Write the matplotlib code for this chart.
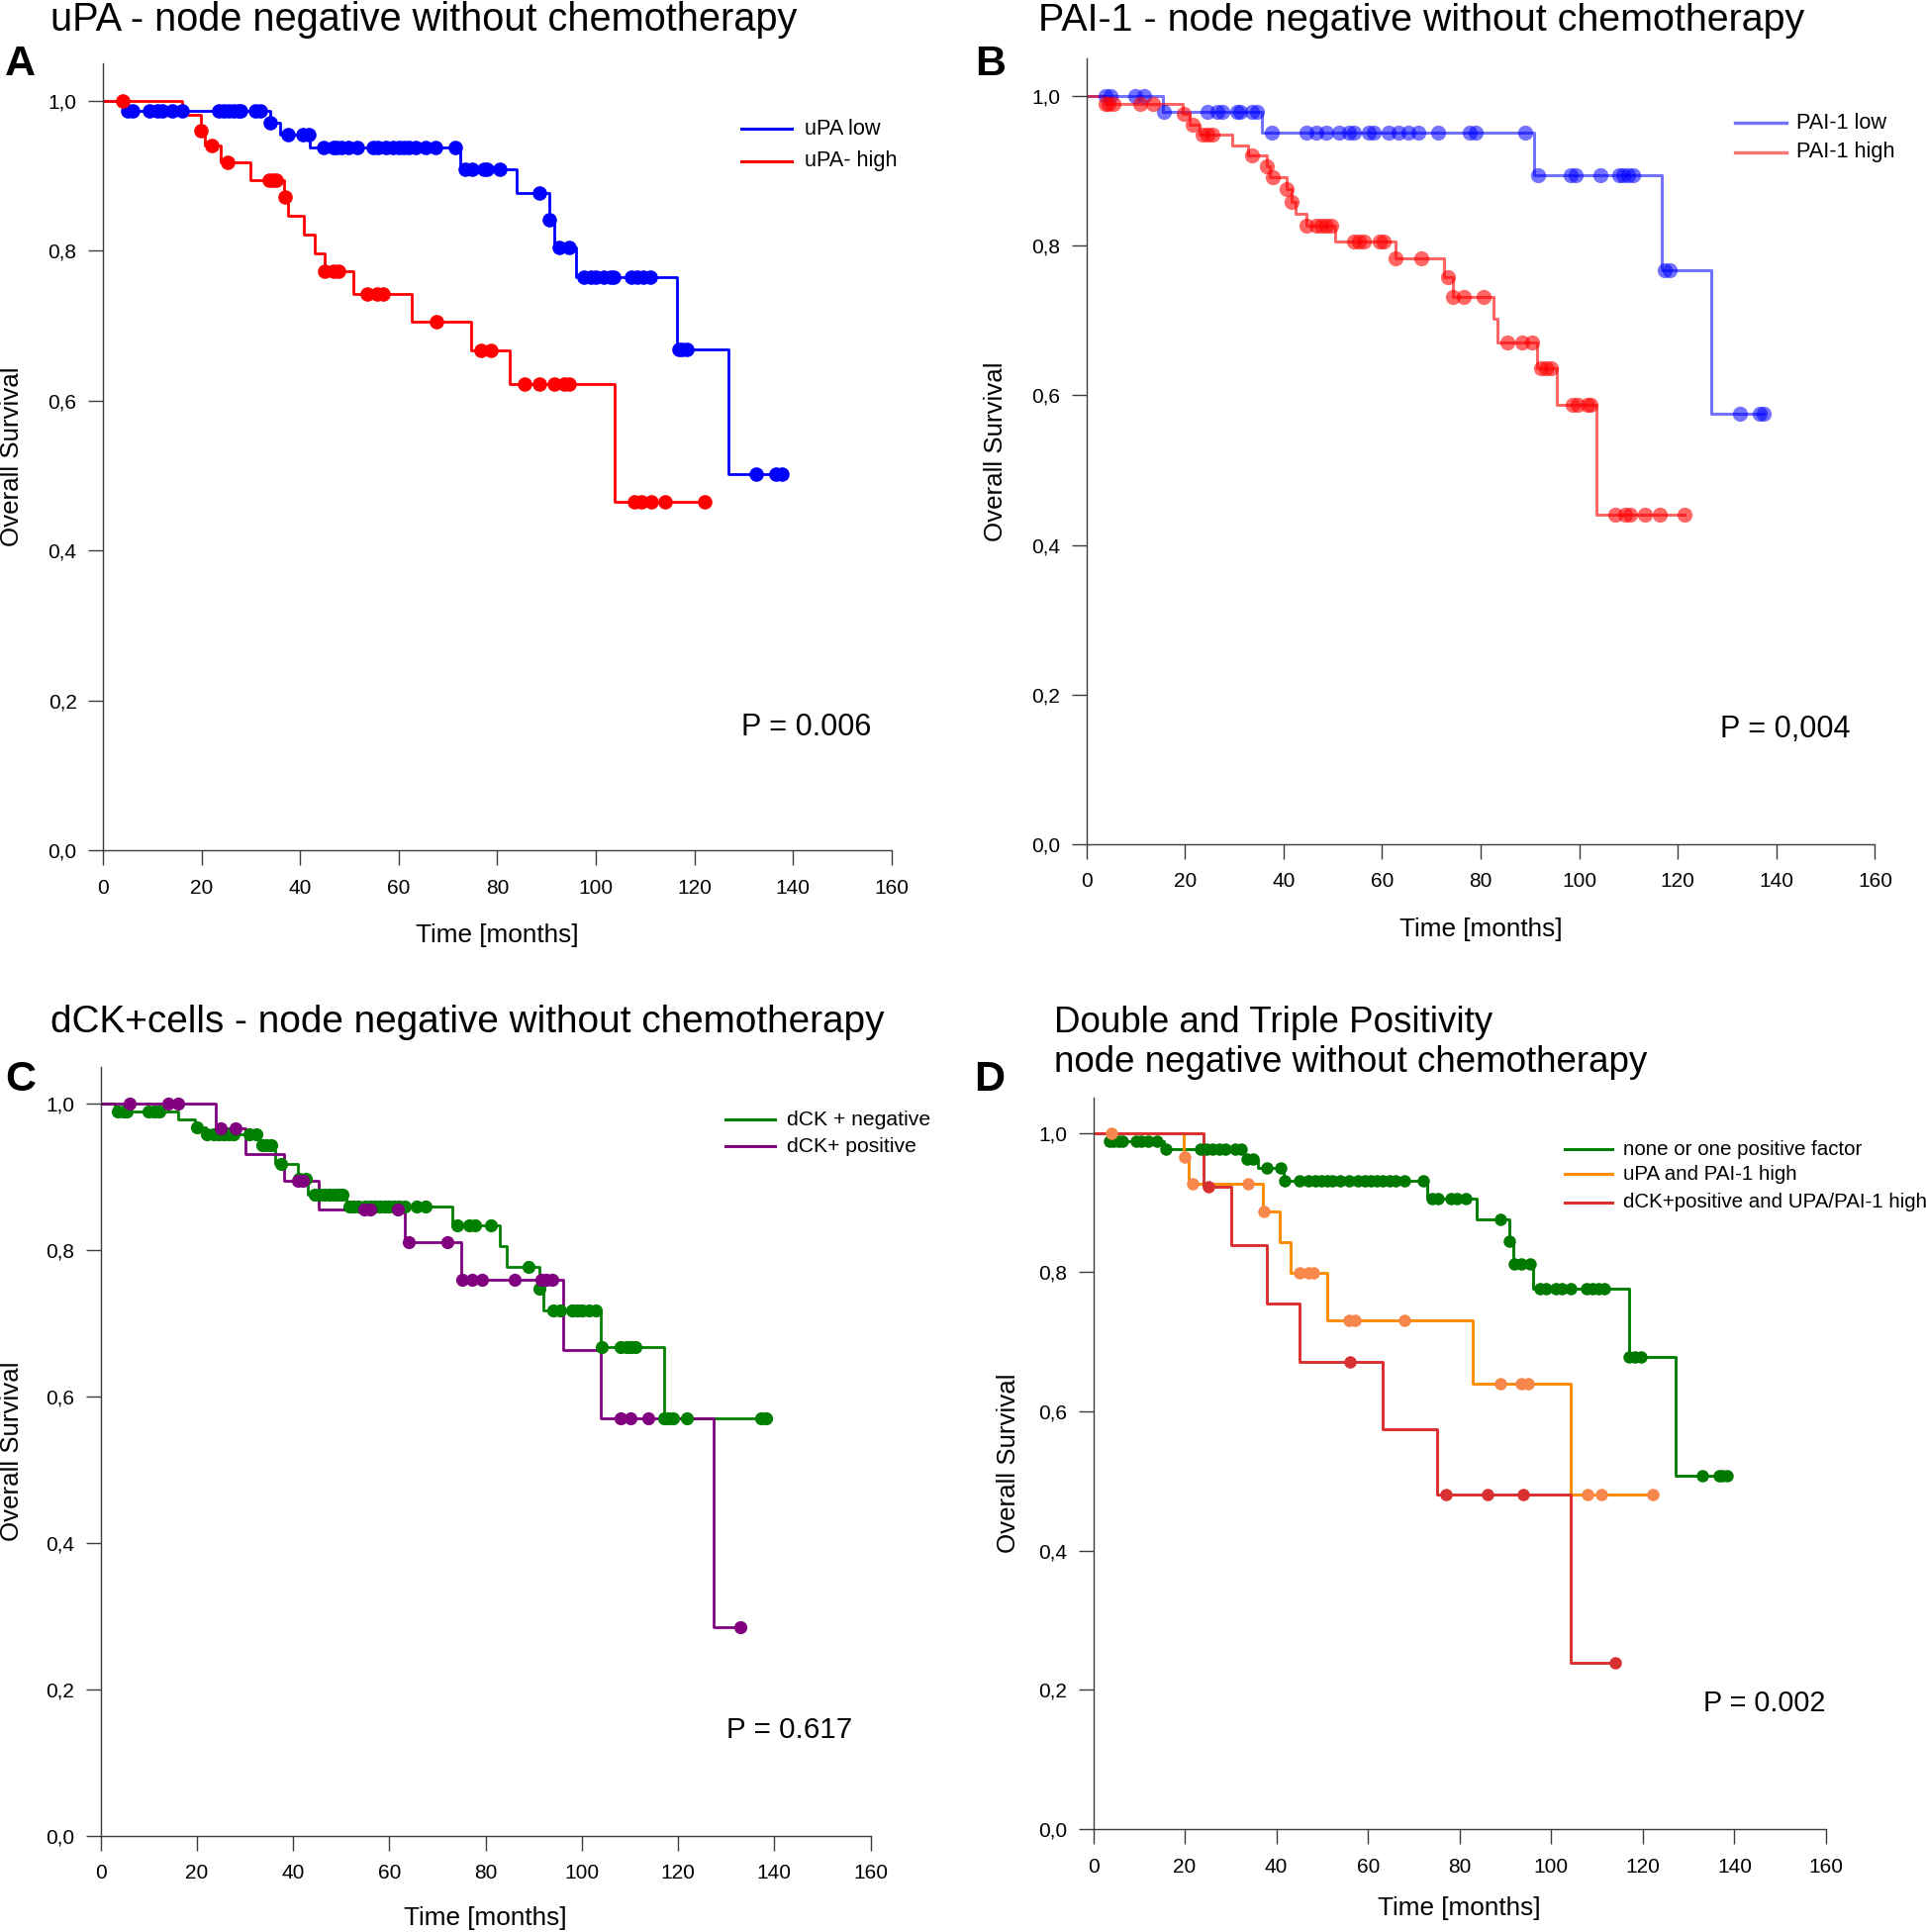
import numpy as np
import matplotlib
matplotlib.use('Agg')
import matplotlib.pyplot as plt
from matplotlib.ticker import FuncFormatter

plt.rcParams['font.family'] = ['Liberation Sans', 'DejaVu Sans']

# ---------------- data ----------------
# panel A - uPA
upa_low_t = [4.5, 34, 36, 42, 72.5, 84, 90.5, 91.5, 96, 116.5, 126.8]
upa_low_s = [0.987, 0.971, 0.955, 0.938, 0.909, 0.877, 0.842, 0.804, 0.765, 0.668, 0.502]
upa_low_cens = [5, 6, 9.5, 11, 12, 14, 16, 23.5, 24.5, 25.5, 26.5, 27.5, 28, 31, 32, 34,
                37.5, 40.5, 41.8, 44.7, 46.7, 47.4, 48.4, 49.7, 51.7, 54.8, 55.8, 57.4,
                58.8, 60.1, 61.1, 62.1, 63.5, 65.5, 67.5, 71.5, 73.5, 74.8, 77.2, 78,
                80.5, 88.6, 90.5, 92.6, 94.6, 97.6, 98.9, 100, 101.6, 102.9, 103.6,
                107.3, 108.5, 109.6, 111, 116.8, 117.5, 118.5, 132.4, 136.5, 137.7]
upa_high_t = [16, 19.8, 20.7, 24, 29.9, 36.8, 37.6, 40.8, 43, 44.9, 50.9, 62.6, 74.7, 82.5, 103.7]
upa_high_s = [0.981, 0.961, 0.940, 0.918, 0.895, 0.872, 0.847, 0.822, 0.797, 0.773,
              0.742, 0.705, 0.667, 0.622, 0.465]
upa_high_cens = [4, 19.9, 22.1, 25.3, 33.8, 34.5, 35.2, 36.9, 45, 46.8, 47.7, 53.7, 55.7,
                 56.8, 67.6, 76.7, 78.7, 85.5, 88.5, 91.5, 93.5, 94.6, 107.8, 109.3,
                 111.2, 114, 122.1]

# panel B - PAI-1
pai_low_t = [15.6, 35.6, 90.8, 116.8, 126.8]
pai_low_s = [0.979, 0.951, 0.894, 0.767, 0.575]
pai_low_cens = [3.8, 4.8, 9.8, 11.8, 15.7, 24.5, 26.5, 27.5, 30.6, 31.2, 33.6, 34.6, 37.6,
                44.6, 46.6, 48.6, 51.3, 53.3, 54.3, 57.3, 58.3, 61.4, 63.4, 65.4, 67.4,
                71.4, 77.7, 78.9, 89, 91.7, 98.3, 99.2, 104.3, 108, 109, 110, 111,
                117.3, 118.3, 132.7, 136.7, 137.5]
pai_high_t = [3.8, 19.6, 21, 23, 29.5, 32.7, 36.6, 37.2, 40.6, 41.6, 42.4, 44.6, 50.5,
              62.7, 72.6, 74.3, 82.5, 83.3, 91.4, 95.4, 103.4]
pai_high_s = [0.989, 0.976, 0.962, 0.949, 0.934, 0.920, 0.906, 0.891, 0.876, 0.859, 0.843,
              0.827, 0.806, 0.783, 0.758, 0.732, 0.702, 0.671, 0.636, 0.587, 0.440]
pai_high_cens = [3.9, 4.5, 5.5, 10.8, 13.5, 19.7, 21.5, 23.5, 24.5, 25.5, 33.6, 36.7,
                 37.9, 40.7, 41.7, 44.7, 46.6, 47.6, 48.6, 49.6, 54.3, 55.3, 56.3, 59.4,
                 60.4, 62.8, 67.9, 73.3, 74.4, 76.6, 80.5, 85.5, 88.4, 90.5, 92.3, 93.3,
                 94.3, 98.6, 99.6, 101.6, 102.2, 107.3, 109.3, 110.3, 113.3, 116.3, 121.3]

# panel C - dCK+ cells
dck_neg_t = [3, 16, 19.5, 21.8, 33, 36.2, 41, 43, 51, 73.1, 83, 84.3, 91.1, 92, 104, 117]
dck_neg_s = [0.990, 0.979, 0.968, 0.958, 0.943, 0.918, 0.897, 0.876, 0.859, 0.834, 0.806,
             0.777, 0.747, 0.717, 0.667, 0.570]
dck_neg_cens = [3.5, 4.7, 5.4, 9.9, 11.2, 12.2, 20.1, 22.1, 23.5, 24.5, 25.5, 26.5, 27.6,
                31, 32.3, 33.6, 34.5, 35.5, 37.5, 41.2, 42.6, 44.5, 45.5, 46.5, 47.5,
                48.5, 49.5, 50.3, 51.6, 52.5, 53.5, 55, 56, 57, 58, 59, 60, 61, 62, 63.1,
                65.7, 67.6, 74, 76.6, 77.9, 81.1, 89, 91.2, 94, 95.5, 98, 99, 100,
                101.5, 103, 104.1, 108, 109.3, 110.2, 111.2, 117.1, 118, 119, 121.9,
                137.3, 138.2]
dck_pos_t = [24, 30, 38.1, 45.2, 63.1, 75, 96.1, 103.9, 127.3]
dck_pos_s = [0.966, 0.931, 0.895, 0.855, 0.811, 0.760, 0.664, 0.570, 0.285]
dck_pos_cens = [6, 14, 16, 25, 28, 41, 42, 54.8, 56, 61.8, 64, 72.1, 75.1, 77.2, 79.2, 86,
                91.6, 92.6, 93.9, 108, 110, 113.8, 133]

# panel D - double and triple positivity
none_one_t = [3.5, 15.5, 32.9, 36, 41.6, 72.9, 83.8, 90.8, 91.8, 96, 116.9, 127.2]
none_one_s = [0.988, 0.976, 0.962, 0.949, 0.931, 0.906, 0.876, 0.845, 0.812, 0.776, 0.678, 0.508]
none_one_cens = [3.6, 4.5, 5.5, 6.3, 9.3, 10.5, 12, 14, 15.9, 23.5, 24.8, 26.1, 27.5, 28.8,
                 30.9, 32.2, 33.6, 34.9, 37.9, 41, 41.9, 45, 47, 48.4, 49.7, 51.1, 52.2,
                 53.8, 55.8, 57.8, 59.2, 60.5, 61.9, 63.2, 64.6, 65.9, 67.9, 72, 74,
                 75.3, 78, 79.4, 81.4, 88.8, 90.9, 92, 93.5, 95.3, 97.6, 98.9, 101,
                 102.3, 104.3, 107.7, 109, 110.4, 111.7, 117, 118.2, 119.6, 132.9, 136.7,
                 137.4, 138.3]
upa_pai_t = [19.8, 20.8, 37.1, 40.7, 43, 51.1, 82.9, 104.2]
upa_pai_s = [0.965, 0.927, 0.887, 0.843, 0.799, 0.731, 0.640, 0.480]
upa_pai_cens = [3.9, 19.9, 21.8, 33.8, 37.2, 45, 47, 48.1, 55.8, 57.2, 67.9, 89, 93.5,
                94.9, 108, 111, 122.1]
triple_t = [24.1, 30.1, 38, 45, 63.2, 75.1, 104.2]
triple_s = [0.922, 0.839, 0.755, 0.671, 0.575, 0.480, 0.239]
triple_cens = [25.1, 56.1, 77.1, 86, 93.9, 114]

x_ticks = [0, 20, 40, 60, 80, 100, 120, 140, 160]
y_ticks = [0.0, 0.2, 0.4, 0.6, 0.8, 1.0]


def km_xy(event_t, event_s, cens_t):
    levels = np.r_[1.0, event_s]
    end = max(max(cens_t), event_t[-1])
    xs = np.r_[0, event_t, end]
    ys = np.r_[levels, levels[-1]]
    cy = levels[np.searchsorted(event_t, cens_t, side='right')]
    return xs, ys, cy


def setup_axes(ax):
    ax.set_xlim(0, 160)
    ax.set_ylim(0, 1.05)
    ax.set_xticks(x_ticks)
    ax.set_yticks(y_ticks)
    ax.yaxis.set_major_formatter(FuncFormatter(lambda v, p: f'{v:.1f}'.replace('.', ',')))
    for s in ['top', 'right']:
        ax.spines[s].set_visible(False)
    for s in ['left', 'bottom']:
        ax.spines[s].set_color('#3c3c3c')
        ax.spines[s].set_linewidth(1.0)
    ax.tick_params(direction='out', length=10.5, width=1, color='#3c3c3c', labelsize=15)
    ax.tick_params(axis='x', pad=10)
    ax.tick_params(axis='y', pad=8.5)
    ax.text(0.5, -0.108, 'Time [months]', transform=ax.transAxes, ha='center',
            va='center', fontsize=18.8)
    ax.text(-0.115, 0.5, 'Overall Survival', transform=ax.transAxes, ha='center',
            va='center', rotation=90, fontsize=18.6)


def draw_curves(ax, curves, lw, ms):
    pts = []
    for ev_t, ev_s, cens, lc, mc, alpha in curves:
        xs, ys, cy = km_xy(ev_t, ev_s, cens)
        ax.step(xs, ys, where='post', color=lc, lw=lw, alpha=alpha, zorder=2)
        pts.append((cens, cy, mc, alpha))
    for cens, cy, mc, alpha in pts:
        ax.plot(cens, cy, 'o', color=mc, ms=ms, mew=0, alpha=alpha, zorder=3, clip_on=False)


def draw_legend(ax, labels, colors, alpha, x0, x1, xt, ys, fs, lw):
    for lab, c, y in zip(labels, colors, ys):
        ax.plot([x0, x1], [y, y], color=c, lw=lw, alpha=alpha, transform=ax.transAxes,
                clip_on=False)
        ax.text(xt, y, lab, transform=ax.transAxes, ha='left', va='center', fontsize=fs)


fig = plt.figure(figsize=(19.46, 19.52), dpi=100)

axA = fig.add_axes([0.0534, 0.5599, 0.4096, 0.4072])
axB = fig.add_axes([0.5641, 0.5630, 0.4094, 0.4067])
axC = fig.add_axes([0.0523, 0.0499, 0.3997, 0.3977])
axD = fig.add_axes([0.5676, 0.0532, 0.3805, 0.3785])

# A
setup_axes(axA)
draw_curves(axA, [(upa_low_t, upa_low_s, upa_low_cens, '#0000ff', '#0000ff', 1.0),
                  (upa_high_t, upa_high_s, upa_high_cens, '#ff0000', '#ff0000', 1.0)],
            lw=2.0, ms=10.5)
draw_legend(axA, ['uPA low', 'uPA- high'], ['#0000ff', '#ff0000'], 1.0,
            0.809, 0.873, 0.890, [0.917, 0.876], 15.7, 2.2)
axA.text(129.5, 0.164, 'P = 0.006', ha='left', va='center', fontsize=22)

# B
setup_axes(axB)
draw_curves(axB, [(pai_low_t, pai_low_s, pai_low_cens, '#0000ff', '#0000ff', 0.55),
                  (pai_high_t, pai_high_s, pai_high_cens, '#ff0000', '#ff0000', 0.6)],
            lw=2.2, ms=11)
draw_legend(axB, ['PAI-1 low', 'PAI-1 high'], ['#0000ff', '#ff0000'], 0.55,
            0.822, 0.888, 0.900, [0.918, 0.881], 15.7, 2.4)
axB.text(128.5, 0.153, 'P = 0,004', ha='left', va='center', fontsize=22)

# C
setup_axes(axC)
draw_curves(axC, [(dck_neg_t, dck_neg_s, dck_neg_cens, '#008000', '#008000', 1.0),
                  (dck_pos_t, dck_pos_s, dck_pos_cens, '#800080', '#800080', 1.0)],
            lw=2.0, ms=9.5)
draw_legend(axC, ['dCK + negative', 'dCK+ positive'], ['#008000', '#800080'], 1.0,
            0.812, 0.876, 0.891, [0.932, 0.897], 15.2, 2.2)
axC.text(130, 0.144, 'P = 0.617', ha='left', va='center', fontsize=21.3)

# D
setup_axes(axD)
draw_curves(axD, [(none_one_t, none_one_s, none_one_cens, '#008000', '#007800', 1.0),
                  (upa_pai_t, upa_pai_s, upa_pai_cens, '#ff8c00', '#f7874a', 1.0),
                  (triple_t, triple_s, triple_cens, '#da2f2f', '#d83030', 1.0)],
            lw=2.1, ms=9)
draw_legend(axD, ['none or one positive factor', 'uPA and PAI-1 high',
                  'dCK+positive and UPA/PAI-1 high'],
            ['#008000', '#ff8c00', '#da2f2f'], 1.0,
            0.643, 0.708, 0.723, [0.930, 0.896, 0.857], 14.8, 2.2)
axD.text(133.3, 0.180, 'P = 0.002', ha='left', va='center', fontsize=20.7)

# titles and panel letters
fig.text(0.0262, 0.9841, 'uPA - node negative without chemotherapy', fontsize=28.6,
         ha='left', va='baseline')
fig.text(0.5391, 0.9841, 'PAI-1 - node negative without chemotherapy', fontsize=28.4,
         ha='left', va='baseline')
fig.text(0.0262, 0.4658, 'dCK+cells - node negative without chemotherapy', fontsize=27.9,
         ha='left', va='baseline')
fig.text(0.5471, 0.4658, 'Double and Triple Positivity', fontsize=26.5,
         ha='left', va='baseline')
fig.text(0.5471, 0.4450, 'node negative without chemotherapy', fontsize=26.5,
         ha='left', va='baseline')
for x, y, letter in [(0.0026, 0.9611, 'A'), (0.5064, 0.9611, 'B'),
                     (0.0026, 0.4355, 'C'), (0.5057, 0.4352, 'D')]:
    fig.text(x, y, letter, fontsize=31, fontweight='bold', ha='left', va='baseline')

fig.savefig('out.png', dpi=100)
